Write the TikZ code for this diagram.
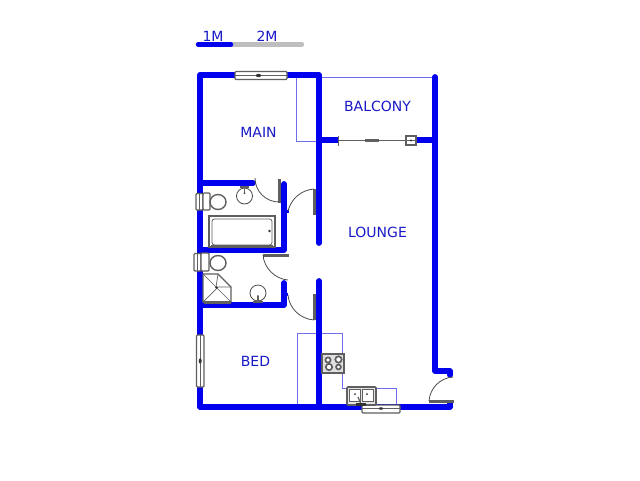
\documentclass[tikz,border=0pt]{standalone}
\usepackage{fontspec}
\setmainfont{DejaVu Sans}
\definecolor{wallblue}{RGB}{0,0,238}
\definecolor{thinblue}{RGB}{110,110,235}
\definecolor{labelblue}{RGB}{25,25,200}
\definecolor{fixgrey}{RGB}{95,95,95}
\definecolor{scalegrey}{RGB}{190,190,190}
\tikzset{
 wall/.style={draw=wallblue,line width=5.8pt,line cap=round,line join=round},
 wallstub/.style={draw=wallblue,line width=5.8pt},
 counter/.style={draw=thinblue,line width=0.8pt},
 fix/.style={draw=fixgrey,line width=1.1pt},
 fixthick/.style={draw=fixgrey,line width=3pt},
 label/.style={text=labelblue,font=\fontsize{14pt}{16pt}\selectfont,inner sep=0pt},
 swing/.style={draw=fixgrey!80!black,line width=0.8pt},
 dot/.style={fill=black!80,draw=none}
}
\begin{document}
\begin{tikzpicture}[x=1pt,y=-1pt]
\useasboundingbox (0,0) rectangle (640,480);
\fill[white] (0,0) rectangle (640,480);
% scale
\draw[scalegrey,line width=4.4pt,line cap=round] (232,44.5) -- (302,44.5);
\draw[wallblue,line width=4.4pt,line cap=round] (198,44.5) -- (231,44.5);
\node[label] (oneM) at (213,36) {1M};
\node[label] (twoM) at (267,36) {2M};
% thin counter lines
\draw[counter] (296,76) -- (296,141) -- (319,141);
\draw[counter] (319,77) -- (434,77);
\draw[counter] (297,405) -- (297,333) -- (342,333) -- (342,388) -- (396,388) -- (396,405);
% walls
\draw[wall] (319,243) -- (319,75) -- (200,75) -- (200,407) -- (450,407) -- (450,403);
\draw[wall] (319,407) -- (319,281);
\draw[wall] (435,77) -- (435,371) -- (450,371) -- (450,375);
\draw[wallstub] (319,140) -- (339,140);
\draw[wallstub] (412,140) -- (435,140);
\draw[wall] (200,183) -- (253,183);
\draw[wall] (284,184) -- (284,250) -- (200,250);
\draw[wall] (284,283) -- (284,305) -- (200,305);
\draw[wallstub,line width=3pt] (284,211) -- (289,211);
\draw[wallstub,line width=3pt] (284,294) -- (288,294);
\draw[wallstub,line width=3pt] (315,213) -- (319,213);
\draw[wallstub,line width=3pt] (315,297) -- (319,297);
% main window
\draw[fix,fill=white,rounded corners=1pt] (235,71.5) rectangle (287,79.5);
\draw[fix,line width=1.4pt] (235,75.5) -- (287,75.5);
\fill[black!80] (258.5,75.5) ellipse (2.8pt and 1.6pt);
% bed window
\draw[fix,fill=white,rounded corners=1pt] (196.5,335) rectangle (204,387);
\draw[fix,line width=1.4pt] (200.2,335) -- (200.2,387);
\fill[black!80] (200.2,361) ellipse (1.5pt and 2.6pt);
% kitchen window
\draw[fix,fill=white,rounded corners=1pt] (362,405) rectangle (400,413);
\draw[fix,line width=1.4pt] (362,408.5) -- (400,408.5);
\fill[black!80] (381,408.5) ellipse (2.2pt and 1.3pt);
% sliding door
\draw[fix,line width=1.2pt] (339,140.5) -- (406,140.5);
\draw[fix,line width=1.3pt] (338.5,136) -- (338.5,146);
\draw[fixthick] (365,140) -- (379,140);
\draw[fix,fill=white] (406,136) rectangle (416,145);
\draw[fix] (406,140.5) -- (416,140.5);
\fill[black!80] (411,140.5) circle (1.2pt);
% bath-main door
\draw[fixthick] (279,179) -- (279,203);
\draw[swing] (255,178) arc[start angle=180,end angle=90,radius=24];
% lounge door upper
\draw[fixthick] (314.5,189) -- (314.5,215);
\draw[swing] (288,211) .. controls (291,199) and (301,190) .. (314,189);
% door bath 2
\draw[fixthick] (263,255) -- (289,255);
\draw[swing] (263,255) .. controls (264,268) and (275,279) .. (288,280);
% door lower
\draw[fixthick] (314.5,294) -- (314.5,320);
\draw[swing] (288,295) .. controls (289,308) and (300,319) .. (314,320);
% external door
\draw[fixthick] (429,401.5) -- (454,401.5);
\draw[swing] (429,401) .. controls (430,388) and (440,378) .. (453,377);
% basin top
\draw[swing] (244.5,196) circle (8pt);
\draw[fix,line width=2pt] (240,187) -- (249,187);
\fill[black!80] (244.5,193) circle (1pt);
\draw[fix] (244.5,187) -- (244.5,193);
% basin bottom
\draw[swing] (258,293) circle (8pt);
\draw[fix,line width=2pt] (253,301.5) -- (263,301.5);
\fill[black!80] (258,296) circle (1pt);
\draw[fix] (258,296) -- (258,301);
% toilet 1
\draw[fix,fill=white,rounded corners=1pt] (196,193.5) rectangle (203,210);
\draw[fix,fill=white,rounded corners=1pt] (203,193) rectangle (210,210);
\draw[fix] (199.5,194) -- (199.5,210);
\draw[fix,fill=white,line width=1.4pt] (218,202) ellipse (8pt and 7.5pt);
% toilet 2
\draw[fix,fill=white,rounded corners=1pt] (194,253.5) rectangle (201,271);
\draw[fix,fill=white,rounded corners=1pt] (201,253) rectangle (209,271);
\draw[fix] (197.5,254) -- (197.5,271);
\draw[fix,fill=white,line width=1.4pt] (218,263) ellipse (8pt and 7.5pt);
% bath
\draw[fix,fill=white,line width=1.3pt] (209,216) rectangle (275,247);
\draw[fix,line width=0.8pt,rounded corners=2.5pt] (212,219) rectangle (272,245);
\draw[fix,line width=2.4pt] (211,246) -- (273,246);
\fill[black!80] (269.5,231) circle (1.4pt);
% shower
\draw[fix,fill=white,line width=1.4pt] (203,274) -- (218,274) -- (231,287) -- (231,302) -- (203,302) -- cycle;
\draw[fix,line width=0.7pt] (203,274) -- (231,302);
\draw[fix,line width=0.7pt] (203,302) -- (218,287) -- (231,287);
\draw[fix,line width=0.7pt] (218,274) -- (216,287);
\fill[black!80] (216.5,287.5) circle (1.3pt);
\draw[fixthick] (204,302) -- (231,302);
% stove
\draw[fix,fill=black!12,line width=1.2pt] (322,354) rectangle (344,373);
\foreach \cx/\cy/\rr in {328/360/2.6,338.5/359.5/3.2,329/367/3.2,338.5/367/2.4}
  \draw[fix,fill=white,line width=1.7pt] (\cx,\cy) circle (\rr pt);
% sink
\draw[fix,fill=black!10,line width=1.6pt,rounded corners=1pt] (347,387) rectangle (376,405);
\draw[fix,fill=white,line width=0.9pt] (349.5,389.5) rectangle (360,401);
\draw[fix,fill=white,line width=0.9pt] (362,389.5) rectangle (373.5,401);
\fill[black!80] (355,394) circle (1pt);
\fill[black!80] (367,394) circle (1pt);
\draw[fix,line width=1.2pt] (358,397) -- (361,404);
\fill[black!80] (356,403) rectangle (366,405.5);
% labels
\node[label] (main) at (258.5,132) {MAIN};
\node[label] (balcony) at (377.5,106) {BALCONY};
\node[label] (lounge) at (377.5,232) {LOUNGE};
\node[label] (bed) at (255.5,361) {BED};
\end{tikzpicture}
\end{document}
